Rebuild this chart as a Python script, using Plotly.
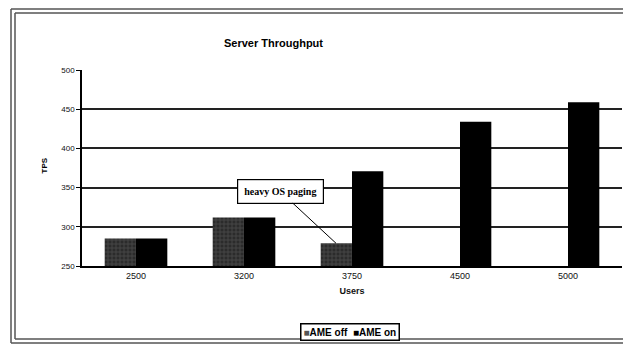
import plotly.graph_objects as go

users = ["2500", "3200", "3750", "4500", "5000"]
ame_off = [285, 312, 279, None, None]
ame_on = [285, 312, 371, 434, 459]
y_ticks = [250, 300, 350, 400, 450, 500]

W, H = 623, 347
L, R, T, B = 82, 1, 70, 81
pw = W - L - R
ph = H - T - B

def px(x):
    return (x - L) / pw

def py(y):
    return (H - B - y) / ph

fig = go.Figure()
fig.add_trace(go.Bar(
    x=users, y=ame_off, name="AME off",
    marker=dict(color="#2b2b2b", line=dict(width=0),
                pattern=dict(shape="+", fgcolor="#6a6a6a", size=4, solidity=0.35)),
))
fig.add_trace(go.Bar(
    x=users, y=ame_on, name="AME on",
    marker=dict(color="#000000", line=dict(width=0)),
))

fig.update_layout(
    width=W, height=H,
    margin=dict(l=L, r=R, t=T, b=B, autoexpand=False),
    paper_bgcolor="white", plot_bgcolor="white",
    barmode="group", bargap=0.42, bargroupgap=0,
    font=dict(family="Arial, Liberation Sans", color="#111", size=9),
    showlegend=False,
    xaxis=dict(type="category", range=[-0.5, 4.5], showline=True, linecolor="#000", linewidth=1.5,
               ticks="", tickfont=dict(size=9), showgrid=False,
               title=dict(text="<b>Users</b>", font=dict(size=9), standoff=8)),
    yaxis=dict(range=[250, 500], tickvals=y_ticks, showline=True, linecolor="#000", linewidth=1.5,
               ticks="outside", ticklen=4, tickcolor="#000", tickfont=dict(size=8),
               showgrid=True, gridcolor="#222", gridwidth=1.5, zeroline=False),
)

# title
fig.add_annotation(text="<b>Server Throughput</b>", xref="paper", yref="paper",
                   x=px(273), y=py(35), showarrow=False, font=dict(size=11, color="#000"))
# y title
fig.add_annotation(text="<b>TPS</b>", xref="paper", yref="paper", x=px(37), y=py(166),
                   showarrow=False, textangle=-90, font=dict(size=8, color="#000"))

# legend (compact, as in the reference)
legend_text = ("<span style='color:#555'>■</span><b>AME off</b>  "
               "<span style='color:#000'>■</span><b>AME on</b>")
fig.add_annotation(text=legend_text, xref="paper", yref="paper", x=px(350), y=py(332),
                   xanchor="center", yanchor="middle", showarrow=False,
                   bordercolor="#000", borderwidth=1.5, borderpad=2, bgcolor="white",
                   font=dict(size=10, color="#000"))

# callout
fig.add_annotation(text="<b>heavy OS paging</b>", x=2, y=279, xref="x", yref="y",
                   xshift=-16, ax=-56, ay=-52, showarrow=True, arrowhead=0, arrowwidth=1,
                   arrowcolor="#000", bordercolor="#000", borderwidth=1.2, borderpad=6,
                   bgcolor="white", font=dict(family="Liberation Serif, Times New Roman", size=10, color="#000"))

# double frame (open on the right, as the reference is cropped there)
for (xl, yt, yb) in [(11, 9, 343), (15, 13, 339)]:
    for seg in [(xl, yt, 630, yt), (xl, yb, 630, yb), (xl, yt, xl, yb)]:
        fig.add_shape(type="line", xref="paper", yref="paper",
                      x0=px(seg[0]), y0=py(seg[1]), x1=px(seg[2]), y1=py(seg[3]),
                      line=dict(color="#555", width=1.5), layer="below")

fig.write_html("out.html", config={"displayModeBar": False},
               post_script="document.body.style.margin='0';document.body.style.overflow='hidden';")
